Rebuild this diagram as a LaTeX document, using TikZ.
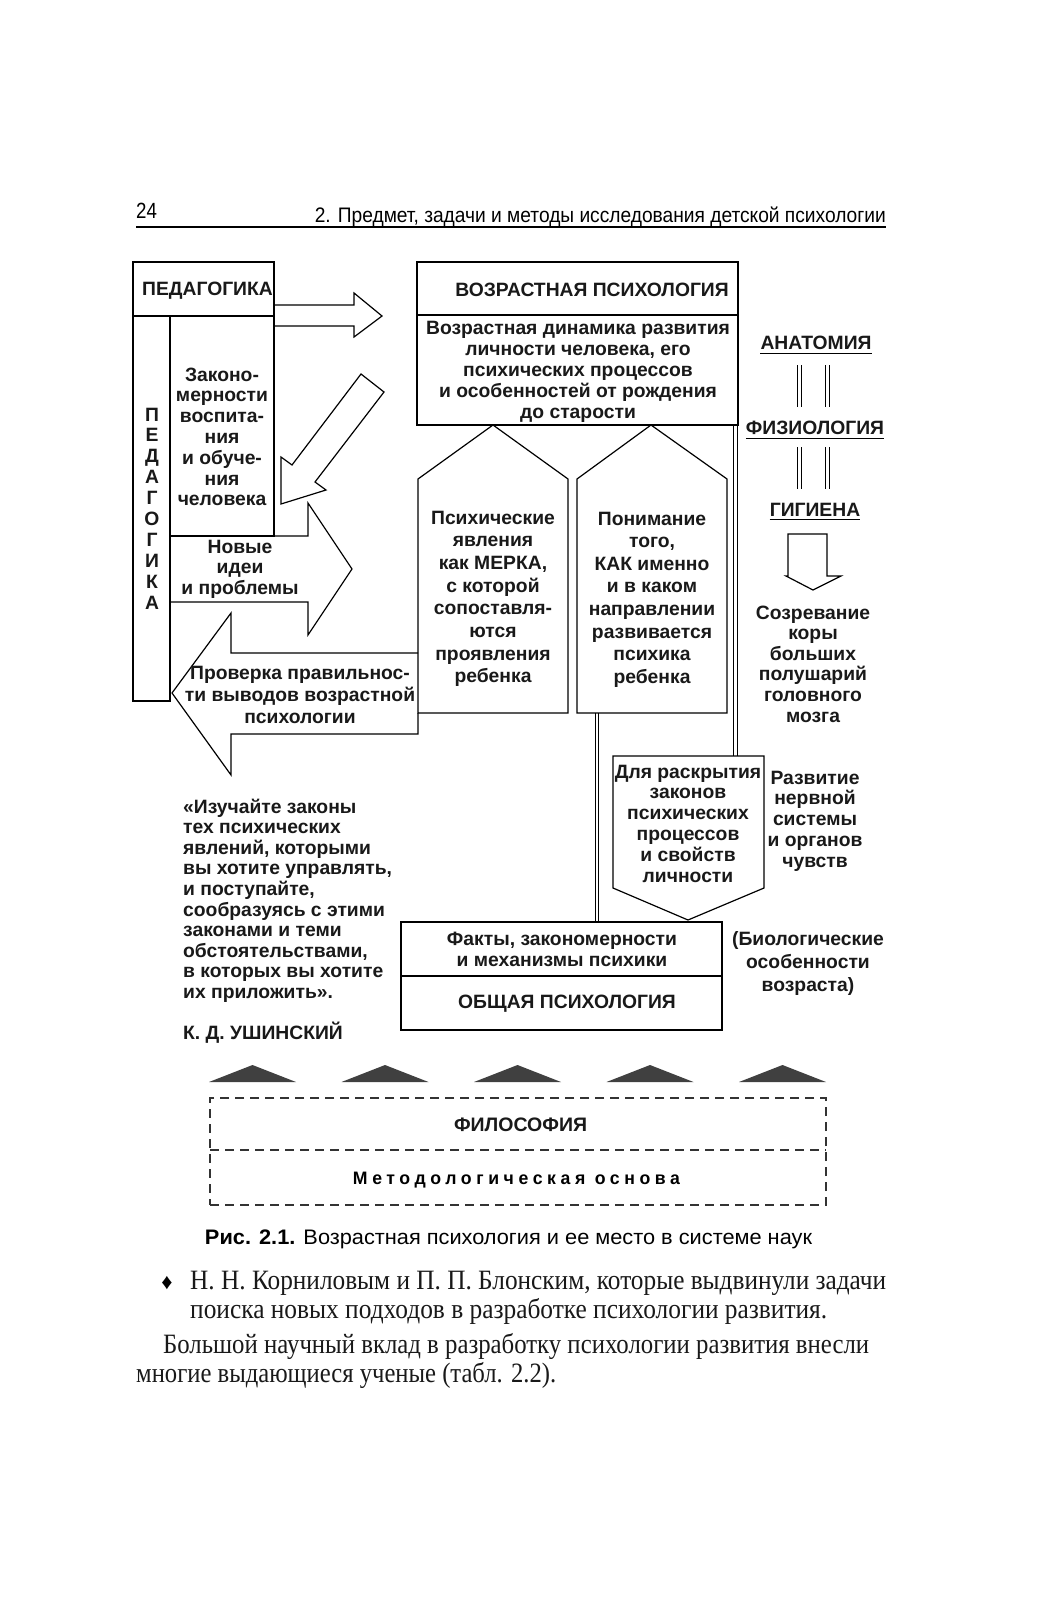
\documentclass[tikz,border=0pt]{standalone}
\usepackage{fontspec}
\usepackage{graphicx}
\setmainfont{Liberation Sans}
\newfontfamily\serifbody{Liberation Serif}
\newfontfamily\spacedfont{Liberation Sans}[LetterSpace=26]
\usetikzlibrary{calc}
\newcommand{\fitw}[2]{\resizebox{#1pt}{\height}{#2}}
\tikzset{
  ln/.style={line width=1.2pt, line join=miter},
  thinln/.style={line width=1pt},
  bx/.style={draw, line width=1.2pt, inner sep=0pt, outer sep=0pt},
  bt/.style={font=\fontsize{19.3}{20.8}\selectfont\bfseries, inner sep=0pt, anchor=base, text=black!90},
  btl/.style={bt, anchor=base west},
  dshline/.style={line width=1.2pt, dash pattern=on 9pt off 6pt, draw=black!80},
  dsh/.style={draw, dshline, inner sep=0pt, outer sep=0pt},
  tri/.style={fill=black!75},
  body/.style={font=\fontsize{28}{30}\serifbody, inner sep=0pt, anchor=base west, text=black!90}
}
\newcommand{\txtlines}[6]{%
  \foreach \lineT [count=\i from 0] in {#6} \node[#5] (#1\i) at (#2, {#3+\i*#4+6}) {\lineT};%
}
\begin{document}
\begin{tikzpicture}[x=1pt,y=-1pt]
\useasboundingbox (0,0) rectangle (1036,1600);
\fill[white] (0,0) rectangle (1036,1600);

% running header
\node[anchor=base west, inner sep=0pt, font=\fontsize{22}{22}\selectfont] (pgnum) at (136,218) {\scalebox{0.85}[1]{24}};
\node[anchor=base east, inner sep=0pt, font=\fontsize{21}{21}\selectfont] (ttl) at (886,222) {\fitw{571}{2. Предмет, задачи и методы исследования детской психологии}};
\coordinate (rl) at (136,227);
\coordinate (rr) at (886,227);
\draw[ln] (rl) -- (rr);

% ---------- ПЕДАГОГИКА ----------
\node[bx, minimum width=141, minimum height=54] (pedh) at (203.5,289) {};
\node[bt] (pedt) at (207.5,295) {ПЕДАГОГИКА};
\node[bx, minimum width=37, minimum height=385] (pedc) at (151.5,508.5) {};
\node[bx, minimum width=104, minimum height=220] (zak) at (222,426) {};
\txtlines{pv}{152}{415}{20.9}{bt}{П,Е,Д,А,Г,О,Г,И,К,А}
\txtlines{zk}{222}{375}{20.8}{bt}{Законо-,мерности,воспита-,ния,и обуче-,ния,человека}

% arrow ПЕДАГОГИКА -> ВОЗРАСТНАЯ
\draw[ln] (pedh.east |- 0,305) -- (354,305) -- (354,293) -- (382,316) -- (354,337) -- (354,326) -- (pedh.east |- 0,326);

% diagonal arrow
\draw[ln] (361,374) -- (384,392) -- (315,482) -- (326,490) -- (281,504) -- (281,457) -- (292,465) -- cycle;

% Новые идеи arrow
\draw[ln] (zak.south east) -- (308,536) -- (308,503) -- (352,569) -- (308,635) -- (308,602) -- (pedc.east |- 0,602);
\txtlines{nv}{240}{547}{20.6}{bt}{Новые,идеи,и проблемы}

% ---------- ВОЗРАСТНАЯ ПСИХОЛОГИЯ ----------
\node[bx, minimum width=321, minimum height=53] (vozh) at (577.5,288.5) {};
\node[bt] (vozt) at (592,296) {ВОЗРАСТНАЯ ПСИХОЛОГИЯ};
\node[bx, minimum width=321, minimum height=110] (vozb) at (577.5,370) {};
\txtlines{vb}{578}{328}{21}{bt}{Возрастная динамика развития,{личности человека, его},психических процессов,и особенностей от рождения,до старости}

% pentagons
\coordinate (psyA) at (493,425);
\draw[ln] (418,713) -- (418,479) -- (psyA) -- (568,479) -- (568,713) -- cycle;
\txtlines{ps}{493}{518}{22.7}{bt}{Психические,явления,{как МЕРКА,},с которой,сопоставля-,ются,проявления,ребенка}
\coordinate (ponA) at (651,425);
\draw[ln] (577,713) -- (577,479) -- (ponA) -- (727,479) -- (727,713) -- cycle;
\txtlines{pn}{652}{519}{22.6}{bt}{Понимание,{того,},КАК именно,и в каком,направлении,развивается,психика,ребенка}

% Проверка arrow
\draw[ln] (418,653) -- (231,653) -- (231,613) -- (172,693) -- (231,775) -- (231,734) -- (418,734) -- (418,713);
\txtlines{pr}{300}{673}{22}{bt}{Проверка правильнос-,ти выводов возрастной,психологии}

% ---------- right column ----------
\node[bt] (anat) at (816,349) {АНАТОМИЯ};
\node[bt] (fiz) at (815,434) {ФИЗИОЛОГИЯ};
\node[bt] (gig) at (815,516) {ГИГИЕНА};
\draw[thinln] ([yshift=-4pt]anat.base west) -- ([yshift=-4pt]anat.base east);
\draw[thinln] ([yshift=-4pt]fiz.base west) -- ([yshift=-4pt]fiz.base east);
\draw[thinln] ([yshift=-3pt]gig.base west) -- ([yshift=-3pt]gig.base east);
\foreach \xx in {797,801,825,829} {
  \draw[thinln] (\xx,365) -- (\xx,407);
  \draw[thinln] (\xx,447) -- (\xx,489);
}
% down arrow
\draw[ln] (788,534) -- (827,534) -- (827,576) -- (841,576) -- (813,590) -- (786,576) -- (788,576) -- cycle;
\txtlines{sz}{813}{613}{20.6}{bt}{Созревание,коры,больших,полушарий,головного,мозга}

% Для раскрытия
\coordinate (dlT) at (735,756);
\draw[ln] (613,756) -- (764,756) -- (764,888) -- (688,920) -- (613,888) -- cycle;
\txtlines{dl}{688}{772}{20.8}{bt}{Для раскрытия,законов,психических,процессов,и свойств,личности}
\txtlines{rz}{815}{778}{20.8}{bt}{Развитие,нервной,системы,и органов,чувств}

% double connectors
\draw[thinln] ([xshift=-5pt]vozb.south east) -- ([xshift=-5pt]vozb.south east |- dlT);
\draw[thinln] ([xshift=-1pt]vozb.south east) -- ([xshift=-1pt]vozb.south east |- dlT);

% ОБЩАЯ ПСИХОЛОГИЯ
\node[bx, minimum width=321, minimum height=54] (fakt) at (561.5,949) {};
\node[bx, minimum width=321, minimum height=54] (obsh) at (561.5,1003) {};
\txtlines{fk}{562}{939}{21}{bt}{{Факты, закономерности},и механизмы психики}
\node[bt] (obt) at (567,1008) {ОБЩАЯ ПСИХОЛОГИЯ};
\coordinate (pb1) at (595,713);
\coordinate (pb2) at (598.5,713);
\draw[thinln] (pb1) -- (pb1 |- fakt.north);
\draw[thinln] (pb2) -- (pb2 |- fakt.north);
\txtlines{bi}{808}{939}{23}{bt}{{(Биологические},{особенности},{возраста)}}

% quote
\txtlines{q}{183}{807}{20.6}{btl}{«Изучайте законы,тех психических,{явлений, которыми},{вы хотите управлять,},{и поступайте,},сообразуясь с этими,законами и теми,{обстоятельствами,},в которых вы хотите,их приложить».}
\node[btl] (ush) at (183,1039) {К. Д. УШИНСКИЙ};

% triangles
\foreach \i in {0,...,4} \fill[tri] ({209+\i*132.5},1082) -- ++(43.5,-17) -- ++(43.5,17) -- cycle;

% dashed base
\node[dsh, minimum width=616, minimum height=107] (dbox) at (518,1151.5) {};
\coordinate (midl) at (0,1150);
\draw[dshline] (dbox.west |- midl) -- (dbox.east |- midl);
\node[bt, font=\fontsize{19.5}{20}\selectfont\bfseries] (philt) at (520.5,1131) {ФИЛОСОФИЯ};
\node[anchor=base, inner sep=0pt, font=\fontsize{18}{20}\spacedfont\bfseries] (metht) at (516.5,1184) {\fitw{327}{Методологическая основа}};

% caption
\node[anchor=base, inner sep=0pt, font=\fontsize{21}{22}\selectfont] (cap) at (508.5,1244) {\fitw{607}{\textbf{Рис. 2.1.} Возрастная психология и ее место в системе наук}};

% body text
\node[anchor=base, inner sep=0pt, font=\fontsize{22}{22}\serifbody] (dia) at (167,1289) {♦};
\node[body] (b1) at (190,1289) {\fitw{696}{Н. Н. Корниловым и П. П. Блонским, которые выдвинули задачи}};
\node[body] (b2) at (190,1318) {\fitw{637}{поиска новых подходов в разработке психологии развития.}};
\node[body] (b3) at (163,1353) {\fitw{706}{Большой научный вклад в разработку психологии развития внесли}};
\node[body] (b4) at (136,1382) {\fitw{420}{многие выдающиеся ученые (табл. 2.2).}};
\end{tikzpicture}
\end{document}
